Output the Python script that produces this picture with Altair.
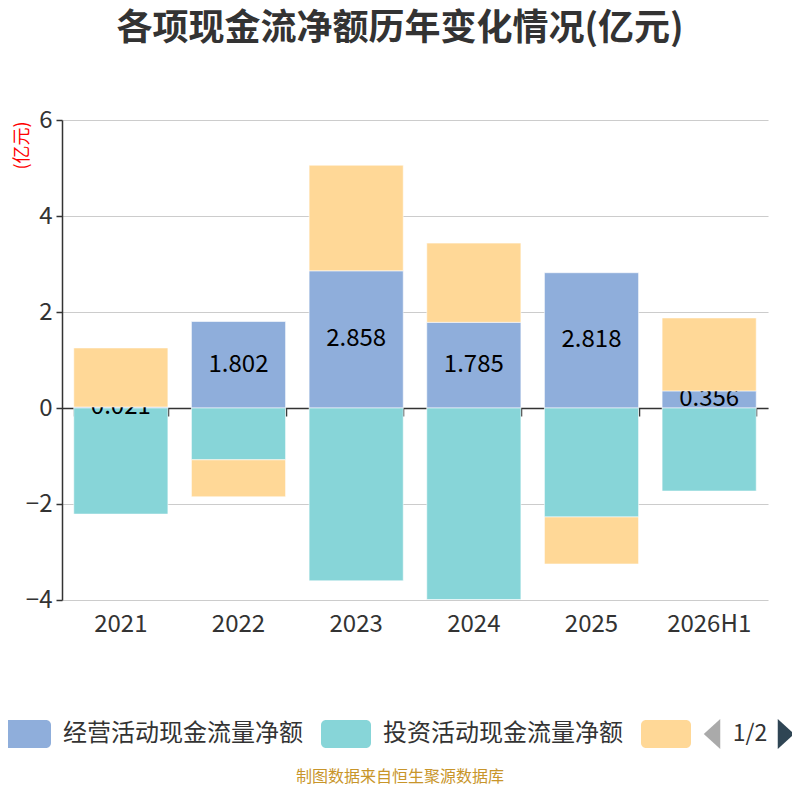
import altair as alt
import pandas as pd

FONT = "Noto Sans CJK SC"

years = ["2021", "2022", "2023", "2024", "2025", "2026H1"]
op = [0.021, 1.802, 2.858, 1.785, 2.818, 0.356]
inv = [-2.21, -1.08, -3.60, -3.99, -2.27, -1.73]
fin = [1.23, -0.77, 2.20, 1.65, -0.98, 1.52]
names = ["经营活动现金流量净额", "投资活动现金流量净额", "筹资活动现金流量净额"]
colors = ["#8FAEDB", "#87D5D8", "#FFD897"]
yticks = [-4, -2, 0, 2, 4, 6]

rows = []
for i, yr in enumerate(years):
    pos = 0.0
    neg = 0.0
    for k, vals in enumerate([op, inv, fin]):
        v = vals[i]
        if v >= 0:
            y0, y1 = pos, pos + v
            pos = y1
        else:
            y0, y1 = neg, neg + v
            neg = y1
        rows.append({"year": yr, "series": names[k], "order": k, "value": v,
                     "y0": y0, "y1": y1, "mid": (y0 + y1) / 2,
                     "label": f"{v:.3f}"})
df = pd.DataFrame(rows)

xscale = alt.Scale(paddingInner=0.2, paddingOuter=0.1)
yscale = alt.Scale(domain=[-4, 6], nice=False, zero=False)
yaxis = alt.Axis(values=yticks, title="(亿元)", titleColor="red", titleFontSize=18,
                 titleFontWeight="normal", titleFont=FONT, titleX=-40, titleY=25,
                 titleAngle=270, titleAlign="center", titleBaseline="middle",
                 labelFontSize=24, labelColor="#333", labelFont=FONT, labelPadding=4,
                 domainColor="#333", domainWidth=1.5, tickColor="#333", tickSize=6,
                 tickWidth=1.5, gridColor="#cccccc", gridWidth=1.2)

PATH = ("M-0.8,-0.56L0.8,-0.56A0.2,0.2,0,0,1,1,-0.36L1,0.36A0.2,0.2,0,0,1,0.8,0.56"
        "L-0.8,0.56A0.2,0.2,0,0,1,-1,0.36L-1,-0.36A0.2,0.2,0,0,1,-0.8,-0.56Z")
ARROW_L = "M0.55,-1L-0.55,0L0.55,1Z"
ARROW_R = "M-0.55,-1L0.55,0L-0.55,1Z"

base = alt.Chart(df)

bars = base.transform_filter("datum.order < 2").mark_bar(
    stroke="#ffffff", strokeWidth=0.8, strokeOpacity=0.7
).encode(
    x=alt.X("year:N", sort=years, scale=xscale,
            axis=alt.Axis(orient="bottom", title=None, labelFontSize=24, labelColor="#333",
                          labelFont=FONT, labelPadding=12, domain=False, ticks=False,
                          labelAngle=0)),
    y=alt.Y("y0:Q", scale=yscale, axis=yaxis),
    y2="y1:Q",
    color=alt.Color("series:N", scale=alt.Scale(domain=names, range=colors),
                    legend=alt.Legend(title=None, orient="none", legendX=-61, legendY=589,
                                      direction="horizontal", symbolType=PATH,
                                      symbolSize=2500, symbolStrokeWidth=0,
                                      symbolOpacity=1, labelFontSize=24,
                                      labelColor="#333", labelFont=FONT, labelOffset=12,
                                      columnPadding=18, labelLimit=400,
                                      labelExpr="datum.label == '筹资活动现金流量净额' ? '' : datum.label")),
)

labels = base.transform_filter("datum.order == 0").mark_text(
    font=FONT, fontSize=24, color="#000000", baseline="middle"
).encode(
    x=alt.X("year:N", sort=years, scale=xscale, axis=None),
    y=alt.Y("mid:Q", scale=yscale, axis=yaxis),
    text="label:N",
)

finbars = base.transform_filter("datum.order == 2").mark_bar(
    stroke="#ffffff", strokeWidth=0.8, strokeOpacity=0.7, color="#FFD897"
).encode(
    x=alt.X("year:N", sort=years, scale=xscale, axis=None),
    y=alt.Y("y0:Q", scale=yscale, axis=yaxis),
    y2="y1:Q",
)

zero_axis = base.transform_filter("datum.order == 0").mark_tick(opacity=0).encode(
    x=alt.X("year:N", sort=years, scale=xscale,
            axis=alt.Axis(orient="bottom", title=None, labels=False, offset=-192,
                          domain=True, domainColor="#333", domainWidth=1.5, ticks=True,
                          tickColor="#333", tickSize=8, tickWidth=1.5,
                          tickBand="extent", grid=False)),
    y=alt.Y("y0:Q", scale=yscale, axis=yaxis),
)

one = pd.DataFrame({"t": ["1/2"]})
pager_text = alt.Chart(one).mark_text(font=FONT, fontSize=23, color="#333").encode(
    x=alt.value(688), y=alt.value(614), text="t:N")
arrow_l = alt.Chart(one).mark_point(shape=ARROW_L, filled=True, size=900,
                                    color="#aaaaaa", opacity=1).encode(
    x=alt.value(650), y=alt.value(614))
arrow_r = alt.Chart(one).mark_point(shape=ARROW_R, filled=True, size=900,
                                    color="#2f4554", opacity=1).encode(
    x=alt.value(724), y=alt.value(614))

footer = alt.Chart(pd.DataFrame({"t": ["制图数据来自恒生聚源数据库"]})).mark_text(
    font=FONT, fontSize=16, color="#C8952A").encode(
    x=alt.value(338), y=alt.value(657), text="t:N")

chart = alt.layer(
    zero_axis, bars, labels, finbars, pager_text, arrow_l, arrow_r, footer
).resolve_axis(x="independent").properties(
    width=706, height=480,
    padding={"left": 54, "top": 112, "right": 24, "bottom": 186},
    autosize=alt.AutoSizeParams(type="none"),
    title=alt.TitleParams("各项现金流净额历年变化情况(亿元)", fontSize=36, fontWeight="bold",
                          color="#333", font=FONT, anchor="middle", dx=-15, offset=60),
).configure_view(stroke=None)

chart.save("out.html", embed_options={"renderer": "svg", "actions": False})
